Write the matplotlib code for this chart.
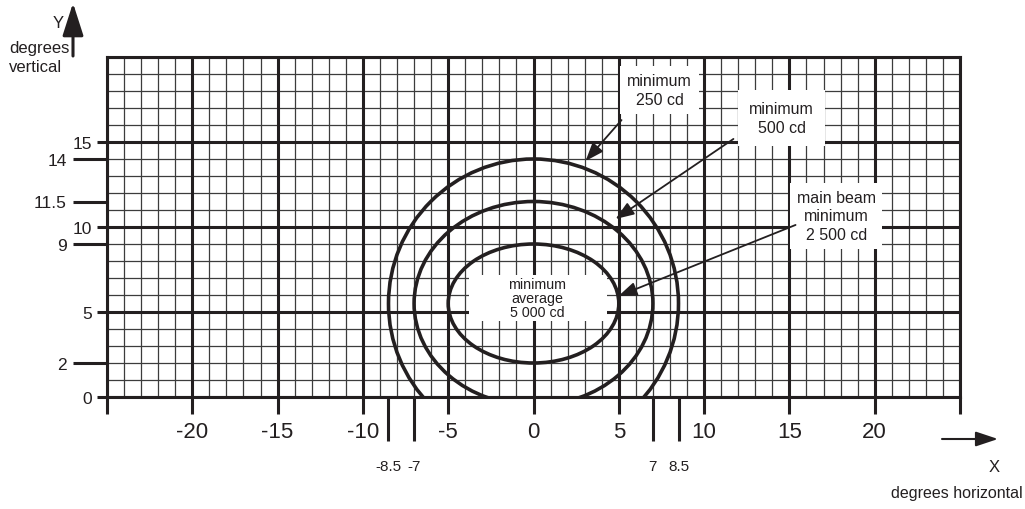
import numpy as np
import matplotlib
matplotlib.use('Agg')
import matplotlib.pyplot as plt
from matplotlib.patches import Ellipse, Rectangle, FancyArrowPatch
from matplotlib import font_manager
from matplotlib.ticker import FixedLocator, FixedFormatter

# ---------------- data ----------------
x_major_ticks = [-25, -20, -15, -10, -5, 0, 5, 10, 15, 20, 25]
x_major_labels = ['', '-20', '-15', '-10', '-5', '0', '5', '10', '15', '20', '']
x_extra_ticks = [-8.5, -7, 7, 8.5]
x_extra_labels = ['-8.5', '-7', '7', '8.5']
y_major_ticks = [0, 5, 10, 15]
y_major_labels = ['0', '5', '10', '15']
y_extra_ticks = [2, 9, 11.5, 14]
y_extra_labels = ['2', '9', '11.5', '14']

# zones (inner -> outer): half width, top, bottom (degrees)
zone_half_width = [5, 7, 8.5]
zone_top = [9, 11.5, 14]
zone_bottom = [2, -0.5, -3]

callout_texts = ['minimum\n250 cd', 'minimum\n500 cd', 'main beam\nminimum\n2 500 cd']
center_text = 'minimum\naverage\n5 000 cd'

# ---------------- layout ----------------
names = {f.name for f in font_manager.fontManager.ttflist}
NARROW = 'Liberation Sans Narrow' if 'Liberation Sans Narrow' in names else 'Liberation Sans'
FS_SMALL = 13 if NARROW == 'Liberation Sans Narrow' else 11.5
plt.rcParams['font.family'] = ['Liberation Sans', 'DejaVu Sans']
INK = '#231f20'

callout_pos = [(7.4, 18.05), (14.55, 16.4), (17.75, 10.65)]
arrow_tail = [(5.16, 16.29), (11.72, 15.18), (15.36, 10.12)]
arrow_tip = [(3.05, 13.88), (4.81, 10.47), (4.98, 5.94)]
callout_pad = [0.45, 0.7, 0.4]
center_pos = (0.23, 5.85)

fig = plt.figure(figsize=(10.25, 5.10), dpi=100)
ax = fig.add_axes([107/1025, 1-398/510, 853/1025, 340/510])
ax.set_xlim(-25, 25)
ax.set_ylim(0, 20)

# grid
for gx in range(-25, 26):
    major = gx % 5 == 0
    ax.axvline(gx, color=INK if major else '#3c3c3c', lw=2.2 if major else 0.9,
               zorder=2 if major else 1)
for gy in range(0, 21):
    major = gy % 5 == 0
    ax.axhline(gy, color=INK if major else '#3c3c3c', lw=2.2 if major else 0.9,
               zorder=2 if major else 1)

for s in ax.spines.values():
    s.set_linewidth(2.2)
    s.set_color(INK)
    s.set_zorder(3)

# ticks x
ax.xaxis.set_major_locator(FixedLocator(x_major_ticks))
ax.xaxis.set_major_formatter(FixedFormatter(x_major_labels))
ax.xaxis.set_minor_locator(FixedLocator(x_extra_ticks))
ax.xaxis.set_minor_formatter(FixedFormatter(x_extra_labels))
ax.tick_params(axis='x', which='major', direction='out', length=12, width=2.2,
               color=INK, labelsize=16, labelcolor=INK, pad=5)
ax.tick_params(axis='x', which='minor', direction='out', length=31.5, width=2.2,
               color=INK, labelsize=FS_SMALL - 0.5, labelcolor=INK, pad=13)
for lab in ax.xaxis.get_minorticklabels():
    lab.set_family(NARROW)

# ticks y
ax.yaxis.set_major_locator(FixedLocator(y_major_ticks))
ax.yaxis.set_major_formatter(FixedFormatter(y_major_labels))
ax.yaxis.set_minor_locator(FixedLocator(y_extra_ticks))
ax.yaxis.set_minor_formatter(FixedFormatter(y_extra_labels))
ax.tick_params(axis='y', which='major', direction='out', length=7, width=2.2,
               color=INK, labelsize=12.5, labelcolor=INK, pad=3.5)
ax.tick_params(axis='y', which='minor', direction='out', length=24.5, width=2.2,
               color=INK, labelsize=12.5, labelcolor=INK, pad=4.5)

# zones
for hw, top, bot in zip(zone_half_width, zone_top, zone_bottom):
    e = Ellipse((0, (top + bot) / 2), 2 * hw, top - bot, fill=False,
                edgecolor=INK, lw=2.6, zorder=6)
    ax.add_patch(e)

# center label with white box
ax.add_patch(Rectangle((center_pos[0] - 4.0, center_pos[1] - 1.35), 8.1, 2.65,
                       facecolor='white', edgecolor='none', zorder=4))
ax.text(center_pos[0], center_pos[1], center_text, ha='center', va='center',
        fontsize=10.3, color=INK, linespacing=1.0, zorder=5)

# callouts
for txt, pos, tail, tip, pad in zip(callout_texts, callout_pos, arrow_tail, arrow_tip, callout_pad):
    ax.text(pos[0], pos[1], txt, ha='center', va='center', family=NARROW,
            fontsize=FS_SMALL, color=INK, linespacing=1.32, zorder=5,
            bbox=dict(boxstyle='square,pad=%s' % pad, facecolor='white', edgecolor='none'))
    ax.annotate('', xy=tip, xytext=tail,
                arrowprops=dict(arrowstyle='-|>,head_length=0.8,head_width=0.3',
                                mutation_scale=14, lw=1.3, color=INK,
                                shrinkA=0, shrinkB=0), zorder=7)

# axis arrows and titles
fig.add_artist(FancyArrowPatch(
    (73/1025, 1-57/510), (73/1025, 1-4/510), transform=fig.transFigure,
    arrowstyle='-|>,head_length=1.0,head_width=0.32', mutation_scale=20,
    lw=2.2, color=INK, shrinkA=0, shrinkB=0))
fig.add_artist(FancyArrowPatch(
    (942/1025, 1-440/510), (998/1025, 1-440/510), transform=fig.transFigure,
    arrowstyle='-|>,head_length=0.9,head_width=0.3', mutation_scale=15,
    lw=1.5, color=INK, shrinkA=0, shrinkB=0))
fig.text(58/1025, 1-24/510, 'Y', ha='center', va='center', family=NARROW,
         fontsize=FS_SMALL + 0.5, color=INK)
fig.text(9/1025, 1-58/510, 'degrees\nvertical', ha='left', va='center', family=NARROW,
         fontsize=FS_SMALL + 0.5, color=INK, linespacing=1.3)
fig.text(994/1025, 1-468/510, 'X', ha='center', va='center', family=NARROW,
         fontsize=FS_SMALL + 0.5, color=INK)
fig.text(957/1025, 1-494/510, 'degrees horizontal', ha='center', va='center', family=NARROW,
         fontsize=FS_SMALL, color=INK)

fig.savefig('out.png', dpi=100, facecolor='white')
